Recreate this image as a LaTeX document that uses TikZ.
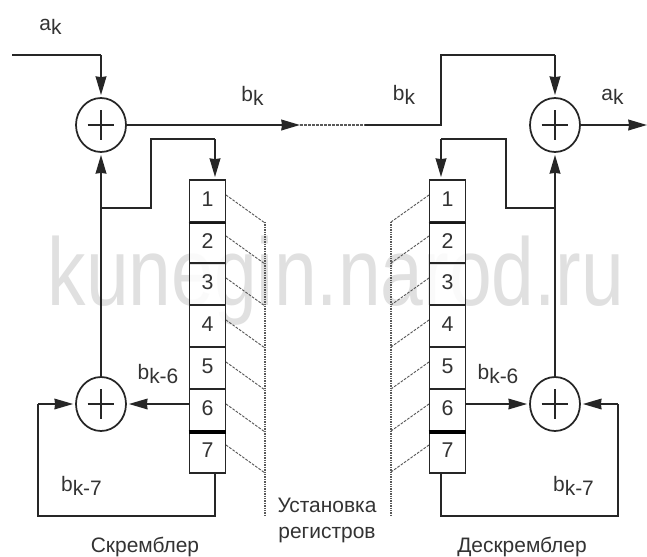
\documentclass[tikz,border=0pt]{standalone}
\usepackage{fontspec}
\setmainfont{Liberation Sans}
\usetikzlibrary{arrows.meta,shapes.geometric}
\tikzset{
  wire/.style={draw=black!85,line width=1.5pt},
  thin wire/.style={draw=black!85,line width=1.2pt},
  arrowed/.style={-{Stealth[length=14pt,width=8pt,inset=0.5pt]},shorten >=1.5pt},
  sumnode/.style={ellipse,draw=black!85,line width=1.3pt,minimum width=37.5pt,minimum height=40.5pt,inner sep=0pt,
    path picture={\draw[black!85,line width=0.8pt] ([xshift=-10pt]path picture bounding box.center)--([xshift=10pt]path picture bounding box.center)
      ([yshift=-11pt]path picture bounding box.center)--([yshift=11pt]path picture bounding box.center);}},
  cell/.style={draw=black!85,line width=1.4pt,minimum width=27pt,minimum height=31.4pt,inner sep=0pt,font=\fontsize{16}{16}\selectfont,text=black!80,fill=white,fill opacity=.85,text opacity=1},
  middiv/.style={draw=black!90,line width=2pt},
  thickdiv/.style={draw=black,line width=2.8pt},
  lbl/.style={font=\fontsize{15.7}{19.5}\selectfont,text=black!80,inner sep=0pt},
  dots/.style={draw=black!65,line width=0.7pt,dash pattern=on 2pt off 1pt},
  dotsv/.style={draw=black!65,line width=1.2pt,dash pattern=on 1pt off .8pt},
  mark text/.style={font=\fontsize{72}{72}\selectfont,text=black!12,inner sep=0pt,anchor=base},
}
\begin{document}
\begin{tikzpicture}[x=0.75pt,y=-0.75pt]
\useasboundingbox (0,0) rectangle (647,557);
\fill[white] (0,0) rectangle (647,557);
\node[mark text] (wm) at (336,305) {\scalebox{.8}[1]{kunegin.narod.ru}};

\coordinate (inL) at (12,55);
\coordinate (turnL) at (101,55);
\node[sumnode] (s1) at (101,125) {};
\node[sumnode] (s2) at (101,404) {};
\coordinate (fbL) at (101,208);
\coordinate (fbLa) at (151,208);
\coordinate (fbLb) at (151,139);
\coordinate (fbLc) at (215,139);
\foreach \i/\y in {1/201,2/243,3/284,4/326,5/368,6/410,7/452}{
  \node[cell] (L\i) at (207.5,\y) {\raisebox{2.5pt}{\i}};
  \node[cell] (R\i) at (447.5,\y) {\raisebox{2.5pt}{\i}};
}
\draw[middiv] (L1.south west)--(L1.south east);
\draw[middiv] (R1.south west)--(R1.south east);
\draw[thickdiv] (L6.south west)--(L6.south east);
\draw[thickdiv] (R6.south west)--(R6.south east);
\coordinate (botL) at (215,516);
\coordinate (loopL) at (38,516);
\coordinate (loopLb) at (38,404);
\coordinate (midL) at (300,125);
\coordinate (midR) at (365,125);

\draw[wire] (inL)--(turnL);
\draw[wire,arrowed] (turnL)--(s1.north);
\draw[wire,arrowed,shorten >=0pt] (s1.east)--(midL);
\draw[dots,line width=1pt] (midL)--(midR);
\draw[wire,arrowed] (s2.north)--(s1.south);
\draw[wire] (fbL)--(fbLa)--(fbLb)--(fbLc);
\draw[wire,arrowed] (fbLc)--(L1.north-|fbLc);
\draw[thin wire,arrowed] (L6.west|-s2)--(s2.east);
\draw[wire] (L7.south-|botL)--(botL)--(loopL)--(loopLb);
\draw[thin wire,arrowed] (loopLb)--(s2.west);

\node[sumnode] (s3) at (555,125) {};
\node[sumnode] (s4) at (555,404) {};
\coordinate (jR) at (441,125);
\coordinate (jRt) at (441,55);
\coordinate (tR) at (555,55);
\coordinate (outR) at (647,125);
\coordinate (fbR) at (555,208);
\coordinate (fbRa) at (505.5,208);
\coordinate (fbRb) at (505.5,139);
\coordinate (fbRc) at (441,139);
\coordinate (botR) at (441,516);
\coordinate (loopR) at (618,516);
\coordinate (loopRb) at (618,404);
\draw[wire] (midR)--(jR)--(jRt)--(tR);
\draw[wire,arrowed] (tR)--(s3.north);
\draw[wire,arrowed,shorten >=0pt] (s3.east)--(outR);
\draw[wire,arrowed] (s4.north)--(s3.south);
\draw[wire] (fbR)--(fbRa)--(fbRb)--(fbRc);
\draw[wire,arrowed] (fbRc)--(R1.north-|fbRc);
\draw[thin wire,arrowed] (R6.east|-s4)--(s4.west);
\draw[wire] (R7.south-|botR)--(botR)--(loopR)--(loopRb);
\draw[thin wire,arrowed] (loopRb)--(s4.east);

\coordinate (vLt) at (265,222);
\coordinate (vLb) at (265,515);
\coordinate (vRt) at (391,222);
\coordinate (vRb) at (391,515);
\draw[dotsv] (vLt)--(vLb);
\draw[dotsv] (vRt)--(vRb);
\foreach \i/\y in {1/195,2/236,3/278,4/320,5/362,6/404,7/445}{
  \coordinate (dl\i) at (226,\y);
  \coordinate (dr\i) at (429,\y);
  \draw[dots] (dl\i) -- ++(39,28);
  \draw[dots] (dr\i) -- ++(-38,27);
}

\node[lbl] (a1) at (50.5,27) {a\raisebox{-3.5pt}{k}};
\node[lbl] (b1) at (252.5,96) {b\raisebox{-3.5pt}{k}};
\node[lbl] (b2) at (404,95) {b\raisebox{-3.5pt}{k}};
\node[lbl] (a2) at (612.5,97) {a\raisebox{-3.5pt}{k}};
\node[lbl] (b3) at (158,374) {b\raisebox{-3.5pt}{k-6}};
\node[lbl] (b4) at (498,374) {b\raisebox{-3.5pt}{k-6}};
\node[lbl] (b5) at (81.5,486) {b\raisebox{-3.5pt}{k-7}};
\node[lbl] (b6) at (573.5,486) {b\raisebox{-3.5pt}{k-7}};
\node[lbl] (t1) at (145,547) {Скремблер};
\node[lbl] (t2) at (522,547) {Дескремблер};
\node[lbl,align=center] (t3) at (327,520) {Установка\\регистров};
\end{tikzpicture}
\end{document}
